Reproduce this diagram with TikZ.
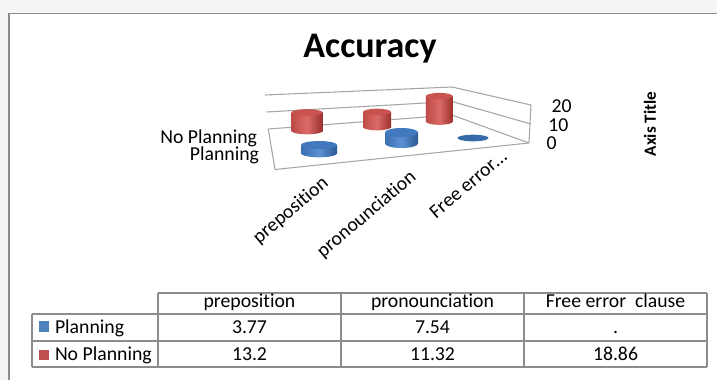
\documentclass[tikz,border=0pt]{standalone}
\usepackage{fontspec}
\setmainfont{Carlito}[Ligatures=NoCommon]

\definecolor{gridgray}{HTML}{A6A6A6}
\definecolor{framegray}{HTML}{8C8C8C}
\definecolor{redL}{HTML}{BE4B48}
\definecolor{redM}{HTML}{DB6B67}
\definecolor{redD}{HTML}{9A302D}
\definecolor{redTop}{HTML}{C9534F}
\definecolor{blueL}{HTML}{3A6FB0}
\definecolor{blueM}{HTML}{5B90D2}
\definecolor{blueD}{HTML}{2C5A93}
\definecolor{blueTop}{HTML}{4279BE}
\definecolor{blueDisk}{HTML}{376AA8}
\definecolor{legblue}{HTML}{4F81BD}
\definecolor{legred}{HTML}{C0504D}

% cylinder: centre x, x radius, y radius, top y, bottom y, side style, top colour
\newcommand\cylbar[7]{%
  \shade[#6] (#1-#2,#4) rectangle (#1+#2,#5);
  \shade[#6] (#1,#5) ellipse[x radius=#2, y radius=#3];
  \fill[#7] (#1,#4) ellipse[x radius=#2, y radius=#3];
}

\begin{document}
\begin{tikzpicture}[x=0.75pt, y=-0.75pt,
  every node/.style={inner sep=0pt, outer sep=0pt},
  lbl/.style={font=\fontsize{14.8}{17}\selectfont},
  grid3d/.style={draw=gridgray, line width=0.8pt},
  tabline/.style={draw=framegray, line width=1.1pt},
  redside/.style={left color=redL, right color=redD, middle color=redM},
  blueside/.style={left color=blueL, right color=blueD, middle color=blueM}]

\useasboundingbox (0,0) rectangle (717,380);
\fill[gray!8] (0,0) rectangle (717,380);
\fill[white] (9,13.5) rectangle (717,380);
\draw[framegray, line width=1.2pt] (9,380) -- (9,13.5) -- (717,13.5);

% title
\node[font=\fontsize{27}{31}\bfseries\selectfont, anchor=base] (title) at (370,57) {Accuracy};

% walls and floor of the 3-D plot
\draw[grid3d] (265,95) -- (452,87) -- (531,105);
\draw[grid3d] (266.5,112) -- (452,101.5) -- (531,124);
\draw[grid3d] (268.3,129) -- (452,115) -- (529,143);
\draw[grid3d] (531,105) -- (529,143);
\draw[grid3d] (268.3,129) -- (275,169.5) -- (529,143);

% No Planning (back row)
\cylbar{307}{15.5}{3.3}{112.5}{131}{redside}{redTop}
\cylbar{377}{14}{3.3}{112}{127}{redside}{redTop}
\cylbar{439.3}{13.5}{3.3}{96.2}{121.5}{redside}{redTop}

% Planning (front row)
\cylbar{319}{18}{4}{145}{153.3}{blueside}{blueTop}
\cylbar{401.5}{16.5}{4.5}{132.5}{143.5}{blueside}{blueTop}
\fill[blueDisk] (473,138) ellipse[x radius=15.5, y radius=3.3];

% series names
\node[lbl, anchor=base east] (serNo) at (257,143.3) {No Planning};
\node[lbl, anchor=base east] (serPl) at (259,160) {Planning};

% value axis
\node[lbl, anchor=base west] (v20) at (551.5,112.5) {20};
\node[lbl, anchor=base west] (v10) at (548.3,131.5) {10};
\node[lbl, anchor=base west] (v0) at (546.7,149.3) {0};
\node[font=\fontsize{12.8}{15}\bfseries\selectfont, rotate=90] (axt) at (650,124) {Axis Title};

% categories
\node[lbl, rotate=40, anchor=base west] (cat1) at (259,244) {preposition};
\node[lbl, rotate=40, anchor=base west] (cat2) at (323,258) {pronounciation};
\node[lbl, rotate=40, anchor=base west] (cat3) at (436,219) {Free error…};

% data table
\draw[tabline] (158,293) -- (707,293);
\draw[tabline] (32,314) -- (707,314);
\draw[tabline] (32,341) -- (707,341);
\draw[tabline] (32,367) -- (707,367);
\draw[tabline] (32,314) -- (32,367);
\draw[tabline] (158,293) -- (158,367);
\draw[tabline] (341,293) -- (341,367);
\draw[tabline] (524,293) -- (524,367);
\draw[tabline] (707,293) -- (707,367);

\node[lbl, anchor=base] (h1) at (249.5,307) {preposition};
\node[lbl, anchor=base] (h2) at (432.5,307) {pronounciation};
\node[lbl, anchor=base] (h3) at (615.5,307) {Free error~ clause};

\fill[legblue] (38.5,321) rectangle (49,331.5);
\node[lbl, anchor=base west] (rowPl) at (55,333) {Planning};
\fill[legred] (38.5,349.5) rectangle (49,360);
\node[lbl, anchor=base west] (rowNo) at (55,360.7) {No Planning};

\node[lbl, anchor=base] (p1) at (249.5,333) {3.77};
\node[lbl, anchor=base] (p2) at (432.5,333) {7.54};
\node[lbl, anchor=base] (p3) at (615.5,333) {.};
\node[lbl, anchor=base] (n1) at (249.5,360.7) {13.2};
\node[lbl, anchor=base] (n2) at (432.5,360.7) {11.32};
\node[lbl, anchor=base] (n3) at (615.5,360.7) {18.86};
\end{tikzpicture}
\end{document}
